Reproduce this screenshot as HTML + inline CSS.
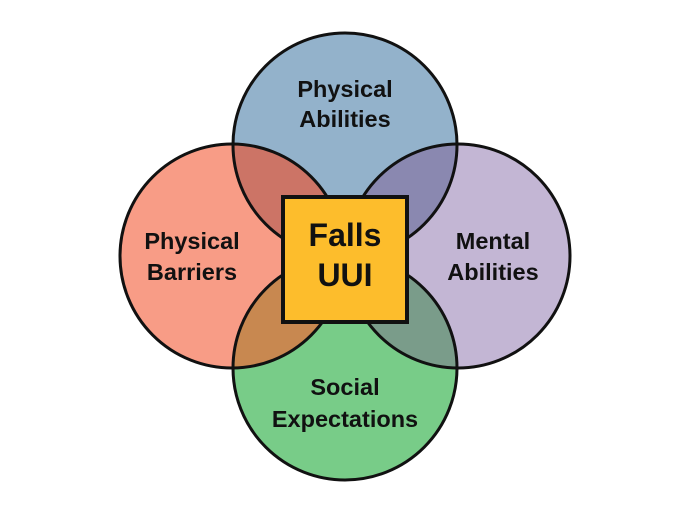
<!DOCTYPE html>
<html><head><style>
html,body{margin:0;padding:0;background:#fff;}
svg{display:block;}
text{font-family:"Liberation Sans",sans-serif;font-weight:bold;fill:#111;text-anchor:middle;}
</style></head><body>
<svg width="686" height="527" viewBox="0 0 686 527">
<defs>
<clipPath id="cT"><circle cx="345" cy="145" r="112"/></clipPath>
<clipPath id="cB"><circle cx="345" cy="368" r="112"/></clipPath>
</defs>
<circle cx="345" cy="145" r="112" fill="#93b2cb"/>
<circle cx="232" cy="256" r="112" fill="#f89c86"/>
<circle cx="458" cy="256" r="112" fill="#c3b6d4"/>
<circle cx="345" cy="368" r="112" fill="#78cc88"/>
<g clip-path="url(#cT)">
<circle cx="232" cy="256" r="112" fill="#cc7466"/>
<circle cx="458" cy="256" r="112" fill="#8a88b0"/>
</g>
<g clip-path="url(#cB)">
<circle cx="232" cy="256" r="112" fill="#c88850"/>
<circle cx="458" cy="256" r="112" fill="#7a9c8a"/>
</g>
<g fill="none" stroke="#111" stroke-width="3">
<circle cx="345" cy="145" r="112"/>
<circle cx="232" cy="256" r="112"/>
<circle cx="458" cy="256" r="112"/>
<circle cx="345" cy="368" r="112"/>
</g>
<rect x="283" y="197" width="124" height="125" fill="#fdbd2c" stroke="#111" stroke-width="4"/>
<g font-size="23.5">
<text x="345" y="97">Physical</text>
<text x="345" y="127">Abilities</text>
<text x="192" y="249">Physical</text>
<text x="192" y="280">Barriers</text>
<text x="493" y="249">Mental</text>
<text x="493" y="280">Abilities</text>
<text x="345" y="395">Social</text>
<text x="345" y="427">Expectations</text>
</g>
<g font-size="32">
<text x="345" y="246">Falls</text>
<text x="345" y="286">UUI</text>
</g>
</svg>
</body></html>
